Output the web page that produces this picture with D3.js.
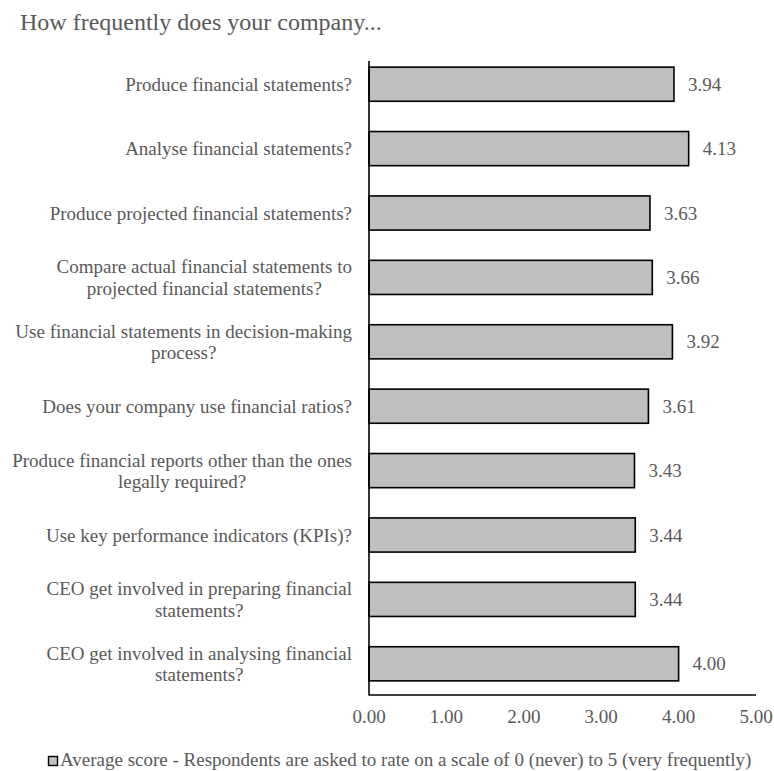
<!DOCTYPE html>
<html>
<head>
<meta charset="utf-8">
<script src="https://cdn.jsdelivr.net/npm/d3@7"></script>
<style>
  html, body { margin: 0; padding: 0; background: #fff; }
  svg { display: block; }
  text { font-family: "Liberation Serif", "Times New Roman", serif; fill: #595959; }
</style>
</head>
<body>
<script>
// Survey questions (each entry is the wrapped lines of the label)
const questions = [
  ["Produce financial statements?"],
  ["Analyse financial statements?"],
  ["Produce projected financial statements?"],
  ["Compare actual financial statements to", "projected financial statements?"],
  ["Use financial statements in decision-making", "process?"],
  ["Does your company use financial ratios?"],
  ["Produce financial reports other than the ones", "legally required?"],
  ["Use key performance indicators (KPIs)?"],
  ["CEO get involved in preparing financial", "statements?"],
  ["CEO get involved in analysing financial", "statements?"]
];
const averageScores = [3.94, 4.13, 3.63, 3.66, 3.92, 3.61, 3.43, 3.44, 3.44, 4.00];
const xTicks = [0, 1, 2, 3, 4, 5];
const chartTitle = "How frequently does your company...";
const legendLabel = "Average score - Respondents are asked to rate on a scale of 0 (never) to 5 (very frequently)";

const W = 774, H = 771;
const labelSize = "19px";
const svg = d3.select("body").append("svg").attr("width", W).attr("height", H);

const x = d3.scaleLinear().domain([0, 5]).range([369, 756]);
const y = d3.scaleBand()
  .domain(d3.range(questions.length))
  .range([52, 696])
  .paddingInner(0.47)
  .paddingOuter(0.235);

// Title
svg.append("text")
  .attr("x", 20).attr("y", 30)
  .style("font-size", "24px")
  .text(chartTitle);

// Bars
svg.append("g").selectAll("rect")
  .data(averageScores)
  .join("rect")
  .attr("x", x(0))
  .attr("y", (d, i) => y(i))
  .attr("width", d => x(d) - x(0))
  .attr("height", y.bandwidth())
  .attr("fill", "#bfbfbf")
  .attr("stroke", "#000")
  .attr("stroke-width", 1.6);

// Value labels
svg.append("g").selectAll("text")
  .data(averageScores)
  .join("text")
  .attr("x", d => x(d) + 14)
  .attr("y", (d, i) => y(i) + y.bandwidth() / 2)
  .attr("dy", "0.35em")
  .style("font-size", labelSize)
  .text(d => d.toFixed(2));

// Category labels
const labelG = svg.append("g");
questions.forEach((lines, i) => {
  const cy = y(i) + y.bandwidth() / 2;
  const lh = 21.5;
  const t = labelG.append("text")
    .style("font-size", labelSize);
  if (lines.length === 1) {
    t.attr("text-anchor", "end")
      .append("tspan")
      .attr("x", 352).attr("y", cy).attr("dy", "0.35em")
      .text(lines[0]);
  } else {
    // wrapped labels are centred on their longest line
    const tmp = labelG.append("text").style("font-size", labelSize).text(lines[0]);
    const w = tmp.node().getComputedTextLength();
    tmp.remove();
    const centre = 352 - w / 2;
    t.attr("text-anchor", "middle");
    lines.forEach((ln, k) => {
      t.append("tspan")
        .attr("x", centre)
        .attr("y", cy + (k - (lines.length - 1) / 2) * lh)
        .attr("dy", "0.35em")
        .text(ln);
    });
  }
});

// Axes lines
svg.append("line")
  .attr("x1", x(0)).attr("x2", x(0))
  .attr("y1", 61).attr("y2", 695.5)
  .attr("stroke", "#000").attr("stroke-width", 1.6);
svg.append("line")
  .attr("x1", x(0)).attr("x2", x(5))
  .attr("y1", 695).attr("y2", 695)
  .attr("stroke", "#000").attr("stroke-width", 1.6);

// X tick labels
svg.append("g").selectAll("text")
  .data(xTicks)
  .join("text")
  .attr("x", d => x(d))
  .attr("y", 723)
  .attr("text-anchor", "middle")
  .style("font-size", labelSize)
  .text(d => d.toFixed(2));

// Legend
svg.append("rect")
  .attr("x", 48.5).attr("y", 756.5)
  .attr("width", 9).attr("height", 9)
  .attr("fill", "#bfbfbf")
  .attr("stroke", "#000").attr("stroke-width", 1.4);
svg.append("text")
  .attr("x", 60).attr("y", 766)
  .style("font-size", "19px")
  .text(legendLabel);
</script>
</body>
</html>
